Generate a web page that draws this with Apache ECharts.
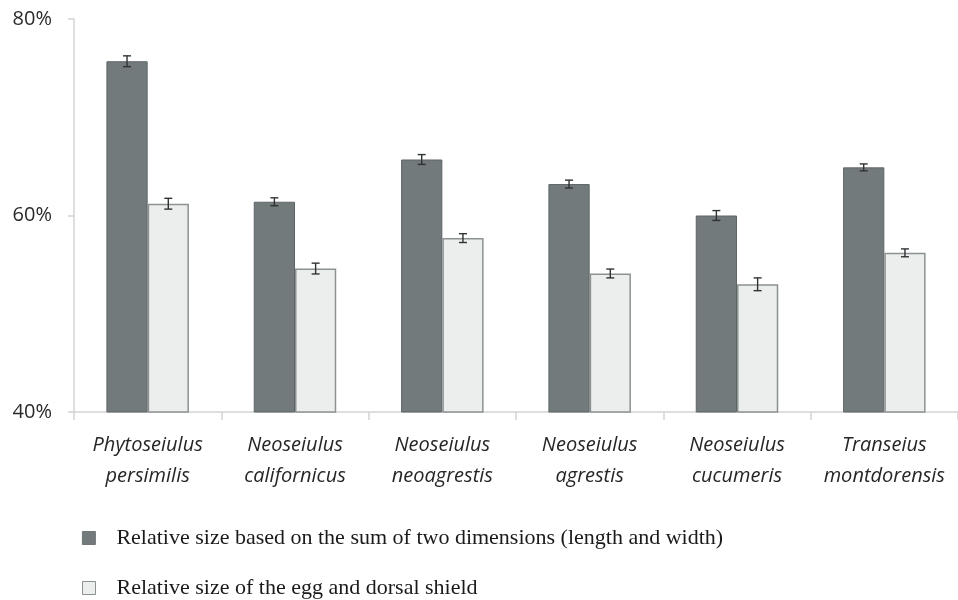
<!DOCTYPE html>
<html>
<head>
<meta charset="utf-8">
<script src="https://cdn.jsdelivr.net/npm/echarts@6/dist/echarts.min.js"></script>
<style>
  html, body { margin: 0; padding: 0; background: #ffffff; }
  #chart { width: 958px; height: 600px; }
</style>
</head>
<body>
<div id="chart"></div>
<script>
// Species (two-line category labels)
const species = [
  'Phytoseiulus\npersimilis',
  'Neoseiulus\ncalifornicus',
  'Neoseiulus\nneoagrestis',
  'Neoseiulus\nagrestis',
  'Neoseiulus\ncucumeris',
  'Transeius\nmontdorensis'
];

// Relative size based on the sum of two dimensions (%), with standard error
const sumDims = [75.7, 61.4, 65.7, 63.2, 60.0, 64.9];
const sumDimsErr = [0.55, 0.4, 0.5, 0.4, 0.5, 0.35];

// Relative size of the egg and dorsal shield (%), with standard error
const eggShield = [61.2, 54.6, 57.7, 54.1, 53.0, 56.2];
const eggShieldErr = [0.55, 0.55, 0.45, 0.45, 0.65, 0.4];

// Y axis ticks
const yTicks = [40, 60, 80];

const seriesNames = [
  'Relative size based on the sum of two dimensions (length and width)',
  'Relative size of the egg and dorsal shield'
];

const DARK = '#737a7b';
const DARK_BORDER = '#5e6566';
const LIGHT = '#eceeed';
const LIGHT_BORDER = '#8c9192';

// Error bar drawer: offsets each whisker to the centre of its bar in the group
function errorBars(values, errs, side) {
  return {
    type: 'custom',
    z: 10,
    silent: true,
    data: values.map((v, i) => [i, v - errs[i], v + errs[i]]),
    renderItem: function (params, api) {
      const idx = api.value(0);
      const lo = api.coord([idx, api.value(1)]);
      const hi = api.coord([idx, api.value(2)]);
      const band = api.size([1, 0])[0];
      const bw = band * 0.28;
      const x = lo[0] + side * bw / 2;
      const cap = 4;
      const style = { stroke: '#2f3334', lineWidth: 1.4 };
      return {
        type: 'group',
        children: [
          { type: 'line', shape: { x1: x, y1: lo[1], x2: x, y2: hi[1] }, style },
          { type: 'line', shape: { x1: x - cap, y1: lo[1], x2: x + cap, y2: lo[1] }, style },
          { type: 'line', shape: { x1: x - cap, y1: hi[1], x2: x + cap, y2: hi[1] }, style }
        ]
      };
    }
  };
}

const legendText = {
  fontFamily: '"Liberation Serif", "DejaVu Serif", serif',
  fontSize: 22,
  color: '#1a1a1a',
  padding: [0, 0, 0, 16]
};

const chart = echarts.init(document.getElementById('chart'), null, { renderer: 'canvas' });

chart.setOption({
  backgroundColor: '#ffffff',
  animation: false,
  grid: { left: 74, width: 888, top: 19, bottom: 188, containLabel: false },
  legend: [
    {
      left: 77,
      top: 522,
      itemWidth: 13,
      itemHeight: 13,
      icon: 'rect',
      data: [{ name: seriesNames[0], itemStyle: { color: DARK, borderColor: DARK_BORDER, borderWidth: 0.8 } }],
      textStyle: legendText
    },
    {
      left: 77,
      top: 572,
      itemWidth: 13,
      itemHeight: 13,
      icon: 'rect',
      data: [{ name: seriesNames[1], itemStyle: { color: LIGHT, borderColor: LIGHT_BORDER, borderWidth: 1 } }],
      textStyle: legendText
    }
  ],
  xAxis: {
    type: 'category',
    data: species,
    axisLine: { lineStyle: { color: '#d4d4d4', width: 1.5 } },
    axisTick: { show: true, length: 8, lineStyle: { color: '#d4d4d4', width: 1.5 } },
    axisLabel: {
      margin: 18,
      fontFamily: '"Open Sans", Lato, sans-serif',
      fontStyle: 'italic',
      fontSize: 20,
      lineHeight: 31,
      color: '#262626',
      interval: 0
    }
  },
  yAxis: {
    type: 'value',
    min: yTicks[0],
    max: yTicks[yTicks.length - 1],
    interval: yTicks[1] - yTicks[0],
    splitLine: { show: false },
    axisLine: { show: true, lineStyle: { color: '#d4d4d4', width: 1.5 } },
    axisTick: { show: true, length: 6, lineStyle: { color: '#d4d4d4', width: 1.5 } },
    axisLabel: {
      margin: 22,
      formatter: '{value}%',
      fontFamily: '"Open Sans", Lato, sans-serif',
      fontSize: 20,
      color: '#2a2a2a'
    }
  },
  series: [
    {
      name: seriesNames[0],
      type: 'bar',
      data: sumDims,
      barWidth: '28%',
      barGap: '0%',
      itemStyle: { color: DARK, borderColor: DARK_BORDER, borderWidth: 1 }
    },
    {
      name: seriesNames[1],
      type: 'bar',
      data: eggShield,
      barWidth: '28%',
      barGap: '0%',
      itemStyle: { color: LIGHT, borderColor: LIGHT_BORDER, borderWidth: 1.5 }
    },
    errorBars(sumDims, sumDimsErr, -1),
    errorBars(eggShield, eggShieldErr, 1)
  ]
});
</script>
</body>
</html>
